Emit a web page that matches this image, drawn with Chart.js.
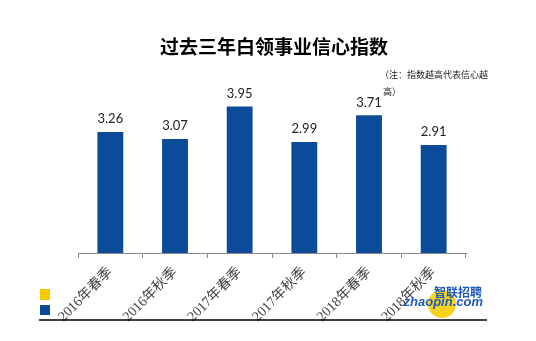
<!DOCTYPE html>
<html>
<head>
<meta charset="utf-8">
<script src="https://cdn.jsdelivr.net/npm/chart.js@4.4.1/dist/chart.umd.min.js"></script>
<style>
  html, body { margin: 0; padding: 0; background: #fff; }
  #wrap { width: 536px; height: 341px; position: relative; }
</style>
</head>
<body>
<div id="wrap"><canvas id="chart" width="536" height="341"></canvas></div>
<script>
const categories = ["2016年春季", "2016年秋季", "2017年春季", "2017年秋季", "2018年春季", "2018年秋季"];
const indexValues = [3.26, 3.07, 3.95, 2.99, 3.71, 2.91];
const titleText = "过去三年白领事业信心指数";
const noteLines = ["（注：指数越高代表信心越", "高）"];

const blue = "#0c4a9a";
const yellow = "#f6c900";

// value labels above bars, title, note, legend squares, logo
const decorations = {
  id: "decorations",
  afterDatasetsDraw(chart) {
    const ctx = chart.ctx;
    const meta = chart.getDatasetMeta(0);
    ctx.save();
    ctx.fillStyle = "#222";
    ctx.font = "13px Lato, 'Liberation Sans', sans-serif";
    ctx.textAlign = "center";
    ctx.textBaseline = "middle";
    meta.data.forEach((bar, i) => {
      ctx.fillText(indexValues[i].toFixed(2), bar.x, bar.y - 13);
    });

    ctx.font = "bold 19px 'Noto Sans CJK SC', sans-serif";
    ctx.fillStyle = "#000";
    ctx.fillText(titleText, 274, 47);

    ctx.font = "9px 'Noto Sans CJK SC', sans-serif";
    ctx.textAlign = "left";
    ctx.fillStyle = "#222";
    ctx.fillText(noteLines[0], 380, 75);
    ctx.fillText(noteLines[1], 383, 92);

    ctx.fillStyle = yellow;
    ctx.fillRect(40, 289, 10, 11);
    ctx.fillStyle = blue;
    ctx.fillRect(40, 305, 10, 10);

    ctx.strokeStyle = "#000";
    ctx.lineWidth = 1.5;
    ctx.beginPath();
    ctx.moveTo(39, 320);
    ctx.lineTo(487, 320);
    ctx.stroke();

    // logo
    ctx.fillStyle = "#f8d21c";
    ctx.beginPath();
    ctx.arc(442, 304, 14, 0, Math.PI * 2);
    ctx.fill();
    ctx.fillStyle = "#1e5bb8";
    ctx.font = "bold 12px 'Noto Sans CJK SC', sans-serif";
    ctx.textAlign = "right";
    ctx.fillText("智联招聘", 482, 292);
    ctx.font = "italic bold 13px 'Liberation Sans', sans-serif";
    ctx.fillText("zhaopin.com", 483, 302);
    ctx.restore();
  },
};

new Chart(document.getElementById("chart"), {
  type: "bar",
  data: {
    labels: categories,
    datasets: [
      {
        data: indexValues,
        backgroundColor: blue,
        categoryPercentage: 1,
        barPercentage: 0.4,
      },
    ],
  },
  options: {
    responsive: false,
    animation: false,
    layout: { padding: { top: 86, left: 78, right: 70, bottom: 0 } },
    plugins: {
      legend: { display: false },
      tooltip: { enabled: false },
    },
    scales: {
      x: {
        afterFit(scale) {
          scale.height = 88;
        },
        border: { color: "#8a8a8a", width: 1 },
        grid: { drawOnChartArea: false, tickLength: 5, color: "#8a8a8a" },
        ticks: {
          minRotation: 45,
          maxRotation: 45,
          padding: 6,
          color: "#444",
          font: { family: "'Liberation Serif', 'Noto Sans CJK SC', serif", size: 14 },
        },
      },
      y: {
        display: false,
        min: 0,
        max: 4.5,
      },
    },
  },
  plugins: [decorations],
});
</script>
</body>
</html>
